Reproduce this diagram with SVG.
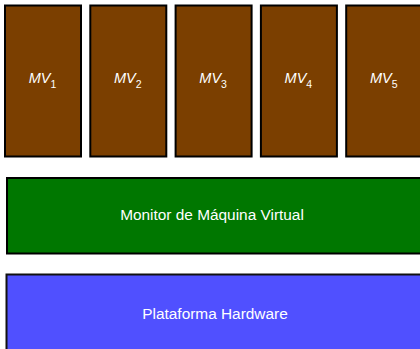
<svg xmlns="http://www.w3.org/2000/svg" width="420" height="349" viewBox="0 0 420 349">
<style>
.mv{fill:#7b3f00;stroke:#000;stroke-width:2}
.lbl{font-family:"Liberation Sans",Arial,sans-serif;fill:#fff}
.it{font-style:italic;font-size:14.5px}
.sub{font-size:10.5px;font-style:normal}
.big{font-size:15.4px}
</style>
<rect width="420" height="349" fill="#fff"/>
<g id="mv1"><rect class="mv" x="5" y="5.5" width="76" height="151"/><text class="lbl it" x="42.5" y="83" text-anchor="middle">MV<tspan class="sub" dy="5">1</tspan></text></g>
<g id="mv2"><rect class="mv" x="90.3" y="5.5" width="76" height="151"/><text class="lbl it" x="127.8" y="83" text-anchor="middle">MV<tspan class="sub" dy="5">2</tspan></text></g>
<g id="mv3"><rect class="mv" x="175.6" y="5.5" width="76" height="151"/><text class="lbl it" x="213.1" y="83" text-anchor="middle">MV<tspan class="sub" dy="5">3</tspan></text></g>
<g id="mv4"><rect class="mv" x="260.9" y="5.5" width="76" height="151"/><text class="lbl it" x="298.4" y="83" text-anchor="middle">MV<tspan class="sub" dy="5">4</tspan></text></g>
<g id="mv5"><rect class="mv" x="346.2" y="5.5" width="76" height="151"/><text class="lbl it" x="383.7" y="83" text-anchor="middle">MV<tspan class="sub" dy="5">5</tspan></text></g>
<g id="monitor"><rect x="7" y="178" width="420" height="75.5" fill="#007700" stroke="#000" stroke-width="2"/><text class="lbl big" x="212" y="220" text-anchor="middle">Monitor de Máquina Virtual</text></g>
<g id="hardware"><rect x="6.5" y="274.5" width="420" height="80" fill="#5050ff" stroke="#111" stroke-width="2"/><text class="lbl big" x="215" y="319" text-anchor="middle">Plataforma Hardware</text></g>
<g id="connectors"/>
</svg>
